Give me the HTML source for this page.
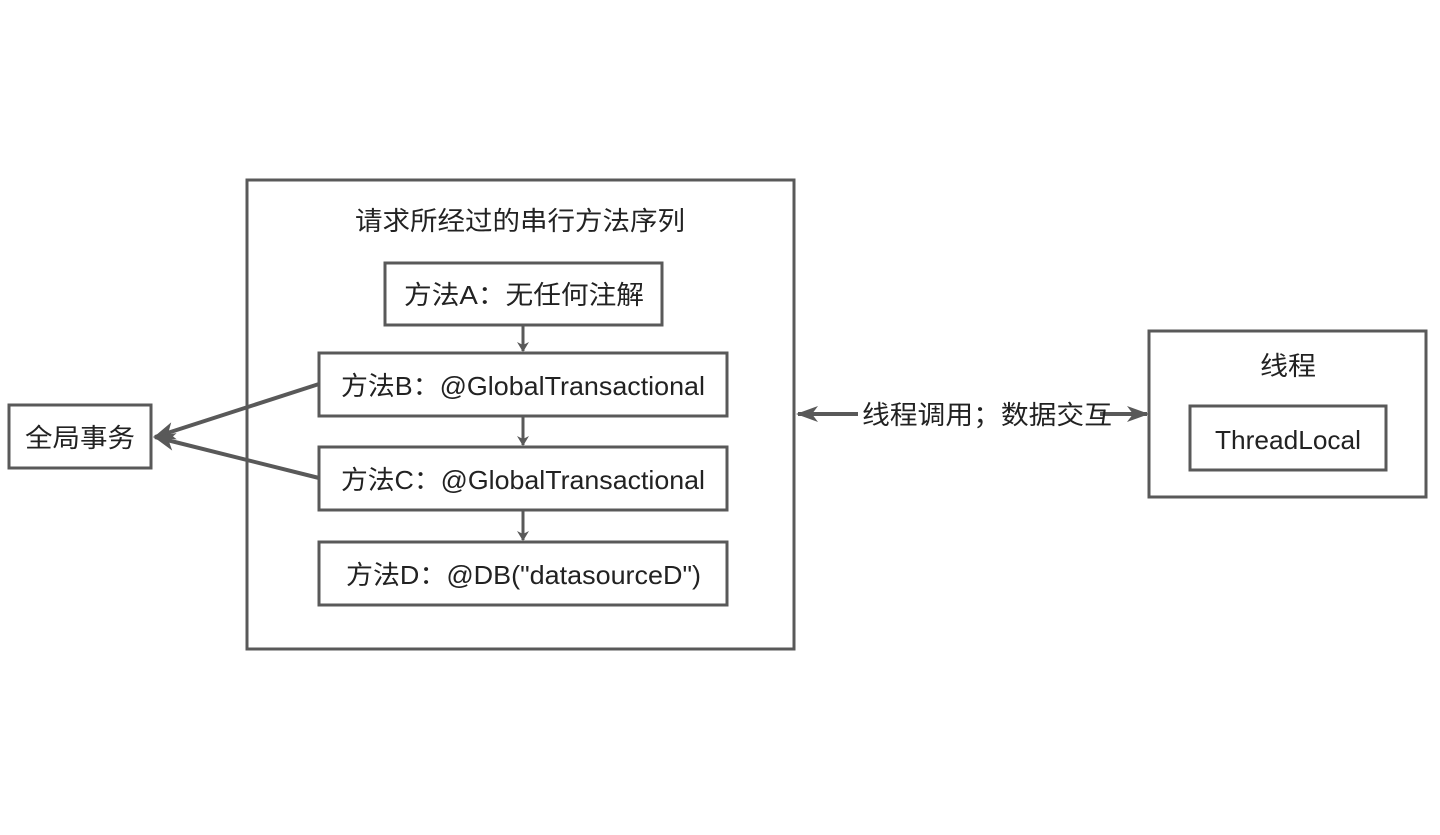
<!DOCTYPE html>
<html><head><meta charset="utf-8"><style>
html,body{margin:0;padding:0;background:#fff;}
text{font-family:"Liberation Sans","Noto Sans CJK SC",sans-serif;fill:#222;}
</style></head><body>
<svg width="1440" height="830" viewBox="0 0 1440 830" xmlns="http://www.w3.org/2000/svg">
<defs>
<marker id="ah" markerWidth="10" markerHeight="12" refX="9" refY="6" orient="auto" markerUnits="userSpaceOnUse"><path d="M0,0 L10,6 L0,12 L3,6 Z" fill="#595959"/></marker>
<marker id="big" markerWidth="22" markerHeight="18" refX="20" refY="9" orient="auto" markerUnits="userSpaceOnUse"><path d="M0,0 L22,9 L0,18 L6,9 Z" fill="#595959"/></marker>
<marker id="mid" markerWidth="22" markerHeight="16" refX="20" refY="8" orient="auto" markerUnits="userSpaceOnUse"><path d="M0,0 L22,8 L0,16 L6,8 Z" fill="#595959"/></marker>
</defs>
<g fill="none" stroke="#595959" stroke-width="3">
<rect x="247" y="180" width="547" height="469"/>
<rect x="385" y="263" width="277" height="62"/>
<rect x="319" y="353" width="408" height="63"/>
<rect x="319" y="447" width="408" height="63"/>
<rect x="319" y="542" width="408" height="63"/>
<rect x="9" y="405" width="142" height="63"/>
<rect x="1149" y="331" width="277" height="166"/>
<rect x="1190" y="406" width="196" height="64"/>
<line x1="523" y1="325" x2="523" y2="351" marker-end="url(#ah)"/>
<line x1="523" y1="416" x2="523" y2="445" marker-end="url(#ah)"/>
<line x1="523" y1="510" x2="523" y2="540" marker-end="url(#ah)"/>
<line x1="319" y1="384" x2="155" y2="437" marker-end="url(#big)" stroke-width="4"/>
<line x1="319" y1="478" x2="155" y2="437" marker-end="url(#big)" stroke-width="4"/>
<line x1="858" y1="414" x2="798" y2="414" marker-end="url(#mid)" stroke-width="4"/>
<line x1="1100" y1="414" x2="1147" y2="414" marker-end="url(#mid)" stroke-width="4"/>
</g>
<g font-size="26">
<text x="355" y="230" textLength="330" lengthAdjust="spacingAndGlyphs">请求所经过的串行方法序列</text>
<text x="404" y="304" textLength="240" lengthAdjust="spacingAndGlyphs">方法A：无任何注解</text>
<text x="341" y="395" textLength="364" lengthAdjust="spacingAndGlyphs">方法B：@GlobalTransactional</text>
<text x="341" y="489" textLength="364" lengthAdjust="spacingAndGlyphs">方法C：@GlobalTransactional</text>
<text x="346" y="584" textLength="355" lengthAdjust="spacingAndGlyphs">方法D：@DB("datasourceD")</text>
<text x="25" y="447" textLength="110" lengthAdjust="spacingAndGlyphs">全局事务</text>
<text x="1260" y="375" textLength="56" lengthAdjust="spacingAndGlyphs">线程</text>
<text x="1215" y="449" textLength="146" lengthAdjust="spacingAndGlyphs">ThreadLocal</text>
<text x="862" y="424" textLength="250" lengthAdjust="spacingAndGlyphs">线程调用；数据交互</text>
</g>
</svg>
</body></html>
